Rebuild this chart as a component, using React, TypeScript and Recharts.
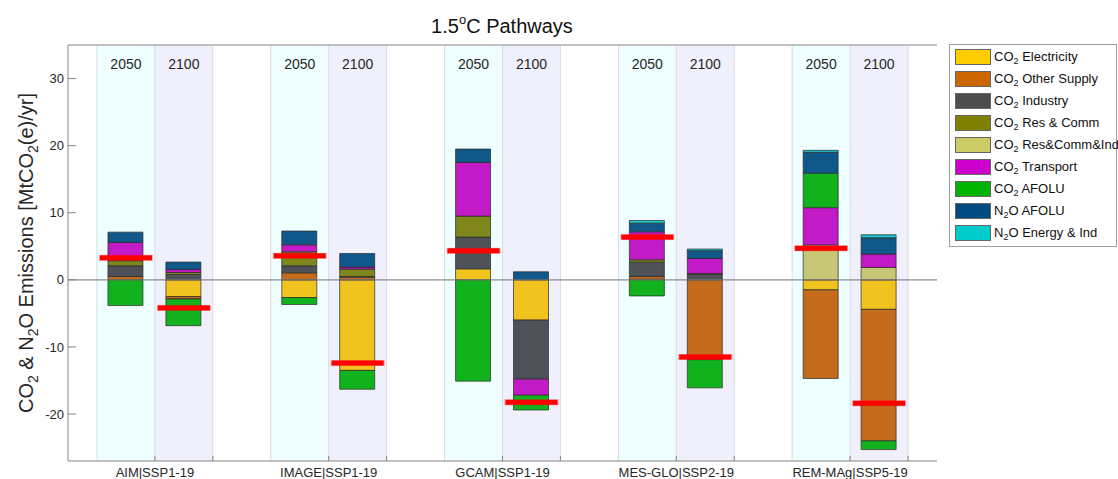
import React from 'react';
import { ComposedChart, Bar, XAxis, YAxis, Scatter, ReferenceArea, ReferenceLine } from 'recharts';

const FONT = '"Liberation Sans", Arial, Helvetica, sans-serif';

// Categories
const groups = ['AIM|SSP1-19', 'IMAGE|SSP1-19', 'GCAM|SSP1-19', 'MES-GLO|SSP2-19', 'REM-MAg|SSP5-19'];
const years = ['2050', '2100'];

// Series values, order: AIM 2050, AIM 2100, IMAGE 2050, IMAGE 2100, GCAM 2050, GCAM 2100, MES 2050, MES 2100, REM 2050, REM 2100
const co2Electricity = [0, -2.5, -2.64, -13.5, 1.64, -6.0, 0.1, 0, -1.5, -4.4];
const co2OtherSupply = [0.5, -0.35, 1.04, 0.4, 0, 0, 0.4, -11.9, -13.2, -19.6];
const co2Industry = [1.6, 0.8, 1.05, 0.1, 4.73, -8.8, 2.13, 0.8, 0, 0];
const co2ResComm = [0.75, 0.3, 2.09, 1.1, 3.13, 0, 0.36, 0.15, 0, 0];
const co2ResCommInd = [0, 0, 0, 0, 0, 0, 0, 0, 5.2, 1.84];
const co2Transport = [2.73, 0.45, 1.04, 0.3, 8.0, -2.4, 4.17, 2.24, 5.55, 2.0];
const co2Afolu = [-3.83, -3.98, -1.04, -2.8, -15.1, -2.2, -2.4, -4.2, 5.15, -1.3];
const n2oAfolu = [1.53, 1.1, 2.05, 2.03, 2.0, 1.2, 1.29, 1.15, 3.1, 2.43];
const n2oEnergyInd = [0, 0, 0, 0, 0, 0, 0.4, 0.25, 0.3, 0.45];
const netTotal = [3.28, -4.18, 3.58, -12.4, 4.33, -18.25, 6.37, -11.5, 4.7, -18.4];

const yTicks = [-20, -10, 0, 10, 20, 30];

const series = [
  { key: 'elec', values: co2Electricity, gas: 'CO', rest: ' Electricity', color: '#f0c31e', legend: '#ffcc00' },
  { key: 'other', values: co2OtherSupply, gas: 'CO', rest: ' Other Supply', color: '#c46c1c', legend: '#cc6600' },
  { key: 'ind', values: co2Industry, gas: 'CO', rest: ' Industry', color: '#4e5258', legend: '#4d4d4d' },
  { key: 'rc', values: co2ResComm, gas: 'CO', rest: ' Res & Comm', color: '#7e861c', legend: '#808000' },
  { key: 'rci', values: co2ResCommInd, gas: 'CO', rest: ' Res&Comm&Ind', color: '#c6c878', legend: '#cccc66' },
  { key: 'tr', values: co2Transport, gas: 'CO', rest: ' Transport', color: '#c21ac6', legend: '#cc00cc' },
  { key: 'afolu', values: co2Afolu, gas: 'CO', rest: ' AFOLU', color: '#12b21e', legend: '#00b300' },
  { key: 'n2oafolu', values: n2oAfolu, gas: 'N', rest: 'O AFOLU', color: '#10588a', legend: '#004c80' },
  { key: 'n2oen', values: n2oEnergyInd, gas: 'N', rest: 'O Energy & Ind', color: '#1cc4cc', legend: '#00cccc' },
];

// x layout per group: gap, 2050 band (2 units), 2100 band (2 units), gap -> 6 units per group
const slotOf = (gi: number, yi: number) => gi * 6 + 2 + yi * 2;

const rows = groups.flatMap((g, gi) =>
  years.map((yr, yi) => {
    const i = gi * 2 + yi;
    const row: any = { x: slotOf(gi, yi), group: g, year: yr, net: netTotal[i] };
    series.forEach((s) => {
      row[s.key] = s.values[i];
    });
    return row;
  })
);

const bands = groups.flatMap((g, gi) =>
  years.map((yr, yi) => ({ x1: slotOf(gi, yi) - 1, x2: slotOf(gi, yi) + 1, year: yr }))
);
const bandEdges = Array.from(new Set(bands.flatMap((b) => [b.x1, b.x2])));
const xTicks = groups.flatMap((g, gi) => [slotOf(gi, 0) + 1, slotOf(gi, 1) + 1]);
const xLabel = (v: number) => {
  const g = (v - 3) / 6;
  return Number.isInteger(g) && groups[g] ? groups[g] : '';
};

function NetMark(props: any) {
  const { cx, cy } = props;
  if (cx == null || cy == null) return null;
  return (
    <g>
      <rect x={cx - 27} y={cy - 3} width={54} height={6} fill="#ff0000" opacity={0.35} />
      <rect x={cx - 26} y={cy - 2.5} width={52} height={5} fill="#ff0000" />
    </g>
  );
}

function YLabel(props: any) {
  const vb = props.viewBox || {};
  const cy = vb.y != null && vb.height != null ? vb.y + vb.height / 2 : 253;
  return (
    <text
      transform={`translate(33, ${cy}) rotate(-90)`}
      textAnchor="middle"
      fontSize={20}
      fill="#262626"
      fontFamily={FONT}
    >
      CO
      <tspan fontSize={14} dy={5}>2</tspan>
      <tspan dy={-5}>{' & N'}</tspan>
      <tspan fontSize={14} dy={5}>2</tspan>
      <tspan dy={-5}>{'O Emissions [MtCO'}</tspan>
      <tspan fontSize={14} dy={5}>2</tspan>
      <tspan dy={-5}>{'(e)/yr]'}</tspan>
    </text>
  );
}

function Legend() {
  return (
    <div
      style={{
        position: 'absolute',
        left: 949,
        top: 44,
        width: 168,
        height: 203,
        border: '1px solid #a0a0a0',
        boxSizing: 'border-box',
        background: '#fff',
        fontFamily: FONT,
      }}
    >
      {series.map((s, i) => (
        <div
          key={s.key}
          style={{ position: 'absolute', left: 5, top: 4 + i * 22, height: 16, display: 'flex', alignItems: 'center' }}
        >
          <div style={{ width: 36, height: 16, background: s.legend, border: '1px solid #666', boxSizing: 'border-box' }} />
          <span style={{ marginLeft: 3, fontSize: 13, color: '#111', whiteSpace: 'nowrap', lineHeight: '16px' }}>
            {s.gas}
            <span style={{ fontSize: 9, position: 'relative', top: 3 }}>2</span>
            {s.rest}
          </span>
        </div>
      ))}
    </div>
  );
}

export default function App() {
  return (
    <div style={{ position: 'absolute', left: 0, top: 0, width: 1118, height: 479, background: '#fff' }}>
      <svg style={{ position: 'absolute', left: 0, top: 0 }} width={1118} height={44}>
        <text x={502} y={33} textAnchor="middle" fontSize={20} fill="#111" fontFamily={FONT}>
          1.5
          <tspan fontSize={13} dy={-9}>o</tspan>
          <tspan dy={9}>C Pathways</tspan>
        </text>
      </svg>
      <div style={{ position: 'absolute', left: 0, top: 0 }}>
        <ComposedChart
          width={1118}
          height={479}
          data={rows}
          stackOffset="sign"
          margin={{ top: 44, right: 181, bottom: 0, left: 0 }}
          style={{ fontFamily: FONT }}
        >
          {bands.map((b, i) => (
            <ReferenceArea
              key={'band' + i}
              xAxisId="b"
              yAxisId="l"
              x1={b.x1}
              x2={b.x2}
              fill={b.year === '2050' ? '#effefe' : '#f0f0fc'}
              fillOpacity={1}
              stroke="none"
              label={{ value: b.year, position: 'insideTop', offset: 14, fontSize: 14, fill: '#262626' }}
            />
          ))}
          {bandEdges.map((x) => (
            <ReferenceLine key={'edge' + x} xAxisId="b" yAxisId="l" x={x} stroke="#d6dce4" strokeWidth={1} />
          ))}
          {series.map((s) => (
            <Bar
              key={s.key}
              xAxisId="b"
              yAxisId="l"
              dataKey={s.key}
              stackId="a"
              fill={s.color}
              stroke="#2a2a2a"
              strokeWidth={1}
              strokeOpacity={0.7}
              barSize={35}
              isAnimationActive={false}
            />
          ))}
          <ReferenceLine xAxisId="b" yAxisId="l" y={0} stroke="#7a7a7a" strokeOpacity={0.85} strokeWidth={1.3} />
          <Scatter xAxisId="b" yAxisId="l" dataKey="net" shape={<NetMark />} isAnimationActive={false} />
          <XAxis
            xAxisId="b"
            dataKey="x"
            type="number"
            domain={[0, 30]}
            ticks={xTicks}
            interval={0}
            tickFormatter={xLabel}
            tickSize={-5}
            tickMargin={12}
            height={18}
            stroke="#858585"
            tick={{ fill: '#262626', fontSize: 13 }}
            allowDataOverflow
          />
          <XAxis
            xAxisId="t"
            orientation="top"
            dataKey="x"
            type="number"
            domain={[0, 30]}
            ticks={xTicks}
            interval={0}
            tick={false}
            tickSize={-5}
            height={1}
            stroke="#858585"
            allowDataOverflow
          />
          <YAxis
            yAxisId="l"
            type="number"
            domain={[-27, 35]}
            ticks={yTicks}
            interval={0}
            width={68}
            tickSize={-8}
            tickMargin={12}
            stroke="#858585"
            tick={{ fill: '#262626', fontSize: 13 }}
            label={<YLabel />}
            allowDataOverflow
          />
          <YAxis
            yAxisId="r"
            orientation="right"
            type="number"
            domain={[-27, 35]}
            ticks={yTicks}
            interval={0}
            width={0}
            tickSize={-8}
            tick={false}
            stroke="#858585"
            allowDataOverflow
          />
        </ComposedChart>
      </div>
      <Legend />
    </div>
  );
}
